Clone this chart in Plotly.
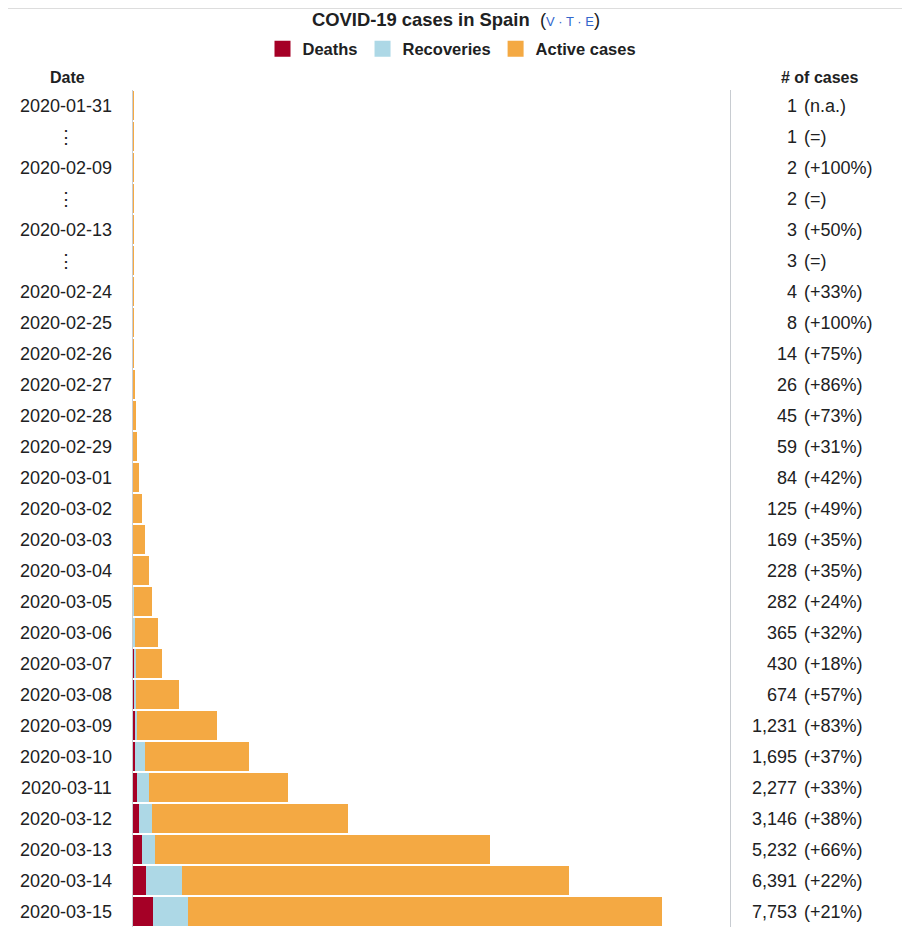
import plotly.graph_objects as go

# rows of the chart, top to bottom ("⋮" = elided days)
dates = ["2020-01-31", "⋮", "2020-02-09", "⋮", "2020-02-13", "⋮", "2020-02-24",
         "2020-02-25", "2020-02-26", "2020-02-27", "2020-02-28", "2020-02-29",
         "2020-03-01", "2020-03-02", "2020-03-03", "2020-03-04", "2020-03-05",
         "2020-03-06", "2020-03-07", "2020-03-08", "2020-03-09", "2020-03-10",
         "2020-03-11", "2020-03-12", "2020-03-13", "2020-03-14", "2020-03-15"]
cases = [1, 1, 2, 2, 3, 3, 4, 8, 14, 26, 45, 59, 84, 125, 169, 228, 282,
         365, 430, 674, 1231, 1695, 2277, 3146, 5232, 6391, 7753]
changes = ["n.a.", "=", "+100%", "=", "+50%", "=", "+33%", "+100%", "+75%",
           "+86%", "+73%", "+31%", "+42%", "+49%", "+35%", "+35%", "+24%",
           "+32%", "+18%", "+57%", "+83%", "+37%", "+33%", "+38%", "+66%",
           "+22%", "+21%"]
deaths = [0, 0, 0, 0, 0, 0, 0, 0, 0, 0, 0, 0, 0, 0, 1, 2, 3,
          5, 10, 17, 28, 36, 55, 86, 133, 195, 288]
recoveries = [0, 0, 0, 0, 0, 0, 2, 2, 2, 2, 2, 2, 2, 2, 2, 2, 15,
              30, 30, 30, 32, 135, 183, 189, 193, 517, 517]
active = [c - d - r for c, d, r in zip(cases, deaths, recoveries)]

C_DEATH = "#A50026"
C_RECOV = "#ADD8E6"
C_ACTIVE = "#F4A943"
TXT = "#202122"

# page body has an 8px margin, so the figure is drawn 8px in from the corner
OFF = 8
W, H = 910 - OFF, 934 - OFF
TOP, BOT = 90 - OFF, 7           # plot area: 27 rows x 31px = 837px
PH = H - TOP - BOT


def px(x):
    return (x - OFF) / W


def py(y):
    # page pixel -> paper y
    return 1 + (TOP - (y - OFF)) / PH


rows = list(range(len(dates)))

fig = go.Figure()
for name, vals, col in [("Deaths", deaths, C_DEATH),
                        ("Recoveries", recoveries, C_RECOV),
                        ("Active cases", active, C_ACTIVE)]:
    fig.add_trace(go.Bar(y=rows, x=vals, orientation="h", name=name,
                         marker=dict(color=col, line=dict(width=0)),
                         showlegend=False))
    # legend entry with a bigger square swatch
    fig.add_trace(go.Scatter(x=[None], y=[None], mode="markers", name=name,
                             marker=dict(symbol="square", size=18, color=col)))

# date column + case count column
for i, d in enumerate(dates):
    fig.add_annotation(x=px(66), xref="paper", y=i, yref="y", text=d,
                       showarrow=False, xanchor="center", yanchor="middle",
                       font=dict(size=18, color=TXT))
    fig.add_annotation(x=px(799), xref="paper", y=i, yref="y", text=f"{cases[i]:,}",
                       showarrow=False, xanchor="right", yanchor="middle",
                       font=dict(size=18, color=TXT))
    fig.add_annotation(x=px(802), xref="paper", y=i, yref="y", text=f"({changes[i]})",
                       showarrow=False, xanchor="left", yanchor="middle",
                       font=dict(size=18, color=TXT))

fig.add_annotation(x=px(67), xref="paper", y=py(77), yref="paper", text="<b>Date</b>",
                   showarrow=False, xanchor="center", yanchor="middle",
                   font=dict(size=16, color=TXT))
fig.add_annotation(x=px(819), xref="paper", y=py(77), yref="paper", text="<b># of cases</b>",
                   showarrow=False, xanchor="center", yanchor="middle",
                   font=dict(size=16, color=TXT))

# thin border line along the top
fig.add_shape(type="line", xref="paper", yref="paper", x0=0, x1=1,
              y0=py(OFF + 0.5), y1=py(OFF + 0.5),
              line=dict(color="#dddddd", width=1))

x_max = (730 - 133) / (529 / 7753)

fig.update_layout(
    width=W, height=H,
    margin=dict(l=0, r=0, t=TOP, b=BOT),
    paper_bgcolor="white", plot_bgcolor="white",
    barmode="stack", bargap=2 / 31,
    font=dict(family="Liberation Sans, Arial, sans-serif", color=TXT),
    title=dict(text="<b>COVID-19 cases in Spain</b>  (<span style='color:#3366cc;font-size:13px'>V · T · E</span>)",
               x=px(456), xanchor="center", y=1 - (20 - OFF) / H, yanchor="middle",
               yref="container", font=dict(size=18.4, color=TXT)),
    legend=dict(orientation="h", x=px(452), xanchor="center", yref="container",
                y=1 - (49 - OFF) / H, yanchor="middle", itemsizing="trace",
                font=dict(size=16.5, color=TXT, weight="bold"),
                itemwidth=30, traceorder="normal"),
    xaxis=dict(domain=[px(133), px(730)], range=[0, x_max], showgrid=False,
               zeroline=False, showticklabels=False, showline=False, fixedrange=True),
    yaxis=dict(range=[len(dates) - 0.5, -0.5], showgrid=False, zeroline=False,
               showticklabels=False, showline=True, mirror=True,
               linecolor="#c8ccd1", linewidth=1, ticks="", fixedrange=True),
)

fig.write_html("out.html")
